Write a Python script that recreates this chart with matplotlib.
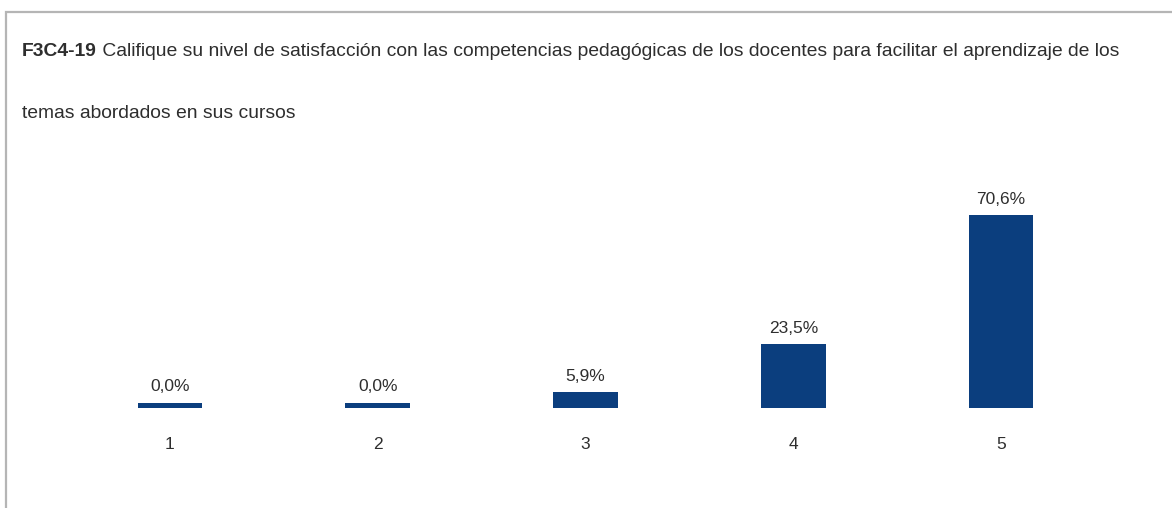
import matplotlib.pyplot as plt
import numpy as np
from matplotlib.patches import Rectangle

categories = ["1", "2", "3", "4", "5"]
percentages = [0.0, 0.0, 5.9, 23.5, 70.6]
value_labels = ["0,0%", "0,0%", "5,9%", "23,5%", "70,6%"]
title_code = "F3C4-19"
title_line1 = " Califique su nivel de satisfacción con las competencias pedagógicas de los docentes para facilitar el aprendizaje de los"
title_line2 = "temas abordados en sus cursos"

BAR_COLOR = "#0b3e7e"
TEXT_COLOR = "#2e2e2e"
TITLE_SIZE = 13.85
MIN_VISIBLE = 1.9  # zero bars still show a thin strip


def main():
    plt.rcParams["font.family"] = ["Liberation Sans Narrow", "Liberation Sans", "DejaVu Sans"]

    W, H = 1172, 508
    fig = plt.figure(figsize=(W / 100, H / 100), dpi=100)

    # outer frame (top and left edges visible, continues off the image)
    fig.patches.append(Rectangle((5.5 / W, -0.1), 1.2, (H - 12.5) / H + 0.1,
                                 transform=fig.transFigure, fill=False,
                                 edgecolor="#b5b5b5", linewidth=1.6))

    # title, first word bold
    t1 = fig.text(22 / W, 1 - 56 / H, title_code, fontsize=TITLE_SIZE, fontweight="bold",
                  color=TEXT_COLOR, va="baseline", ha="left")
    fig.canvas.draw()
    bb = t1.get_window_extent()
    fig.text(bb.x1 / W, 1 - 56 / H, title_line1, fontsize=TITLE_SIZE, color=TEXT_COLOR,
             va="baseline", ha="left")
    fig.text(22 / W, 1 - 118 / H, title_line2, fontsize=TITLE_SIZE, color=TEXT_COLOR,
             va="baseline", ha="left")

    ax = fig.add_axes([66 / W, (H - 408) / H, 1039 / W, 218.4 / H])
    x = np.arange(len(categories))
    heights = np.maximum(percentages, MIN_VISIBLE)
    ax.bar(x, heights, width=0.31, color=BAR_COLOR)
    for xi, h, lab in zip(x, heights, value_labels):
        ax.annotate(lab, (xi, h), xytext=(0, 6), textcoords="offset points",
                    ha="center", va="bottom", fontsize=12.5, color=TEXT_COLOR)

    ax.set_xlim(-0.5, len(categories) - 0.5)
    ax.set_ylim(0, 80)
    ax.set_xticks(x, categories)
    ax.tick_params(axis="x", length=0, pad=21, labelsize=12.5, labelcolor=TEXT_COLOR)
    ax.set_yticks([])
    for s in ax.spines.values():
        s.set_visible(False)

    fig.savefig("out.png", dpi=100)


if __name__ == "__main__":
    main()
